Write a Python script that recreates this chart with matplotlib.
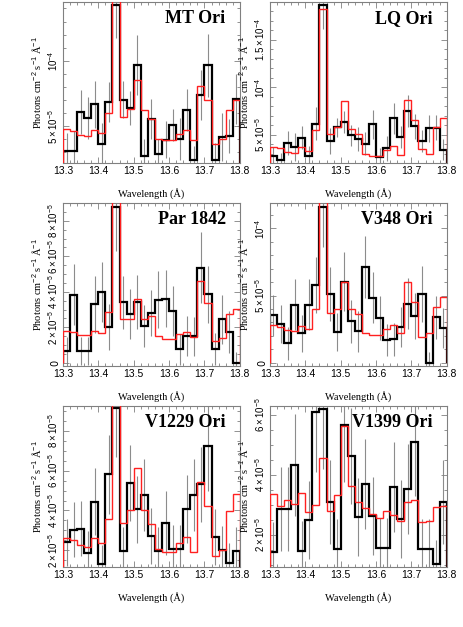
import matplotlib
matplotlib.use('Agg')
import matplotlib.pyplot as plt
import numpy as np
from matplotlib.ticker import MultipleLocator, FixedLocator

plt.rcParams['mathtext.fontset'] = 'custom'
plt.rcParams['mathtext.rm'] = 'Liberation Sans'
plt.rcParams['mathtext.it'] = 'Liberation Sans:italic'

# wavelength bins (Angstrom), 0.02 A wide
wave_edges = np.round(np.arange(13.30, 13.805, 0.02), 2)

# fluxes in units of 1e-5 photons cm-2 s-1 A-1
mt_obs = [3.11, 3.11, 6.07, 5.61, 6.68, 3.67, 6.86, 14.26, 7.04, 6.43, 9.67, 2.70, 5.56,
          2.86, 3.98, 5.10, 4.03, 6.22, 2.40, 7.40, 9.64, 2.45, 4.18, 4.23, 7.09]
mt_mod = [4.80, 4.64, 4.36, 4.29, 4.74, 4.49, 6.02, 16.0, 5.71, 6.28, 8.57, 6.22, 5.56,
          4.06, 3.93, 3.93, 4.39, 4.74, 3.93, 8.11, 6.99, 3.67, 4.03, 6.22, 7.04]
mt_err = [1.4, 1.5, 1.7, 1.6, 1.8, 1.6, 1.5, 2.5, 1.4, 1.3, 2.3, 1.3, 1.5,
          1.2, 1.4, 1.2, 1.6, 1.6, 1.1, 1.9, 2.4, 1.3, 1.8, 1.3, 1.9]

lq_obs = [2.81, 2.32, 4.14, 3.72, 4.70, 2.81, 6.18, 18.63, 4.35, 5.82, 6.35, 4.95, 4.56,
          4.07, 6.11, 2.67, 3.58, 6.74, 4.77, 7.51, 5.89, 4.35, 5.68, 5.75, 3.44]
lq_mod = [3.72, 3.58, 3.16, 3.09, 3.72, 3.30, 5.47, 18.28, 5.05, 5.82, 8.56, 5.61, 5.05,
          2.95, 2.74, 2.74, 3.37, 3.79, 2.88, 8.63, 6.53, 3.51, 2.95, 5.82, 6.81]
lq_err = [0.9, 0.8, 1.3, 1.5, 1.2, 1.0, 1.7, 2.5, 1.4, 1.0, 1.2, 1.1, 1.3,
          1.2, 1.5, 1.0, 1.3, 1.6, 1.2, 1.7, 1.3, 1.2, 1.4, 1.3, 1.1]

par_obs = [0.64, 3.85, 0.68, 0.68, 3.30, 4.00, 2.00, 8.81, 3.40, 2.75, 3.43, 2.08, 2.81,
           3.55, 3.62, 2.91, 0.75, 1.51, 1.49, 5.36, 3.87, 0.79, 2.45, 1.74, 0.0]
par_mod = [1.77, 1.74, 1.58, 1.55, 1.77, 1.66, 2.87, 10.5, 2.49, 2.49, 3.58, 2.45, 2.62,
           1.51, 1.36, 1.36, 1.62, 1.74, 1.43, 4.60, 3.38, 1.25, 1.40, 2.77, 3.06]
par_err = [0.8, 1.7, 0.8, 0.8, 1.6, 1.7, 1.3, 2.5, 1.5, 1.4, 1.5, 1.2, 1.3,
           1.6, 1.6, 1.4, 0.9, 1.1, 1.1, 2.0, 1.6, 0.9, 1.4, 1.2, 0.6]

v348_obs = [3.53, 2.89, 1.44, 4.33, 2.19, 4.33, 5.77, 11.62, 5.12, 2.29, 6.02, 3.08, 2.34,
            7.11, 4.83, 3.33, 1.69, 1.74, 2.64, 4.38, 3.48, 5.12, 0.0, 3.38, 2.59]
v348_mod = [2.79, 2.69, 2.44, 2.39, 2.74, 2.54, 3.98, 13.0, 3.73, 4.03, 6.02, 4.03, 3.63,
            2.24, 2.09, 2.09, 2.49, 2.79, 2.19, 6.02, 4.53, 1.89, 2.24, 4.18, 4.88]
v348_err = [1.5, 1.4, 1.2, 1.9, 1.4, 1.9, 2.1, 3.0, 2.0, 1.4, 2.2, 1.6, 1.5,
            2.3, 1.9, 1.6, 1.2, 1.2, 1.5, 1.9, 1.7, 2.1, 0.8, 1.6, 1.5]

v1229_obs = [2.39, 3.03, 3.09, 1.88, 4.44, 1.28, 5.82, 9.18, 1.98, 5.38, 4.05, 4.77, 2.72,
             1.98, 3.38, 2.05, 2.05, 4.07, 4.77, 5.31, 7.26, 2.66, 2.02, 1.34, 1.98]
v1229_mod = [2.62, 2.49, 2.25, 2.18, 2.62, 2.35, 3.56, 10.0, 3.39, 4.00, 6.15, 4.00, 3.33,
             2.05, 1.92, 1.92, 2.35, 2.64, 1.92, 5.45, 4.20, 1.68, 2.02, 3.97, 4.81]
v1229_err = [1.2, 1.4, 1.4, 1.1, 1.7, 1.0, 2.0, 2.5, 1.2, 1.9, 1.7, 1.8, 1.4,
             1.2, 1.6, 1.2, 1.2, 1.7, 1.8, 1.9, 2.3, 1.4, 1.2, 1.0, 1.2]

v1399_obs = [1.44, 2.87, 2.87, 4.33, 1.47, 2.49, 6.09, 6.20, 3.09, 1.53, 5.67, 4.64, 2.60,
             3.69, 2.64, 1.56, 1.56, 3.60, 2.53, 3.53, 5.09, 1.53, 1.53, 1.02, 3.09]
v1399_mod = [3.36, 2.96, 3.16, 3.02, 3.40, 2.76, 3.00, 4.56, 2.80, 3.33, 5.64, 3.64, 3.09,
             2.91, 2.69, 2.58, 2.80, 2.67, 2.47, 3.09, 3.16, 2.42, 2.47, 2.93, 2.96]
v1399_err = [1.0, 1.4, 1.4, 1.7, 1.0, 1.3, 2.0, 2.0, 1.4, 1.0, 1.9, 1.6, 1.3,
             1.5, 1.3, 1.0, 1.0, 1.5, 1.3, 1.5, 1.8, 1.0, 1.0, 0.8, 1.4]

panels = [
    ('MT Ori', mt_obs, mt_mod, mt_err, (2.19, 14.5), [5, 10],
     [r'$5\times10^{-5}$', r'$10^{-4}$'], 1.0),
    ('LQ Ori', lq_obs, lq_mod, lq_err, (2.04, 18.98), [5, 10, 15],
     [r'$5\times10^{-5}$', r'$10^{-4}$', r'$1.5\times10^{-4}$'], 1.0),
    ('Par 1842', par_obs, par_mod, par_err, (-0.19, 9.0), [0, 2, 4, 6, 8],
     ['0', r'$2\times10^{-5}$', r'$4\times10^{-5}$', r'$6\times10^{-5}$', r'$8\times10^{-5}$'], 0.5),
    ('V348 Ori', v348_obs, v348_mod, v348_err, (-0.25, 11.87), [0, 5, 10],
     ['0', r'$5\times10^{-5}$', r'$10^{-4}$'], 1.0),
    ('V1229 Ori', v1229_obs, v1229_mod, v1229_err, (1.16, 9.28), [2, 4, 6, 8],
     [r'$2\times10^{-5}$', r'$4\times10^{-5}$', r'$6\times10^{-5}$', r'$8\times10^{-5}$'], 0.5),
    ('V1399 Ori', v1399_obs, v1399_mod, v1399_err, (0.94, 6.31), [2, 4, 6],
     [r'$2\times10^{-5}$', r'$4\times10^{-5}$', r'$6\times10^{-5}$'], 0.5),
]

# axes boxes in figure fractions [left, bottom, width, height]
boxes = [[0.136, 0.740, 0.382, 0.257], [0.583, 0.740, 0.382, 0.257],
         [0.136, 0.416, 0.382, 0.260], [0.583, 0.416, 0.382, 0.260],
         [0.136, 0.096, 0.382, 0.257], [0.583, 0.096, 0.382, 0.257]]

serif = ['Liberation Serif', 'DejaVu Serif']
sans = ['Liberation Sans', 'DejaVu Sans']
frame_col = '#808080'

fig = plt.figure(figsize=(4.63, 6.27), dpi=100)
centers = 0.5 * (wave_edges[:-1] + wave_edges[1:])

for box, (name, obs, mod, err, ylim, yt, ytl, yminor) in zip(boxes, panels):
    ax = fig.add_axes(box)
    ax.errorbar(centers, obs, yerr=err, fmt='none', ecolor='#8c8c8c',
                elinewidth=0.8, capsize=0, zorder=1)
    ax.stairs(obs, wave_edges, color='black', linewidth=1.6, zorder=2)
    ax.stairs(mod, wave_edges, color='#ff2020', linewidth=1.0, zorder=3)

    ax.set_xlim(13.3, 13.8)
    ax.set_ylim(*ylim)
    ax.set_xticks([13.3, 13.4, 13.5, 13.6, 13.7, 13.8])
    ax.set_xticklabels(['13.3', '13.4', '13.5', '13.6', '13.7', '13.8'],
                       family=sans, fontsize=7.5)
    ax.xaxis.set_minor_locator(MultipleLocator(0.02))
    ax.yaxis.set_major_locator(FixedLocator(yt))
    ax.set_yticklabels(ytl, rotation=90, va='center', fontsize=7)
    ax.yaxis.set_minor_locator(MultipleLocator(yminor))
    ax.tick_params(which='both', direction='in', top=True, right=True,
                   color=frame_col, width=0.6)
    ax.tick_params(which='major', length=4, pad=2)
    ax.tick_params(which='minor', length=2)
    for sp in ax.spines.values():
        sp.set_color(frame_col)
        sp.set_linewidth(0.8)

    ax.set_xlabel('Wavelength (Å)', family=serif, fontsize=7.5, labelpad=9)
    ax.set_ylabel('Photons cm$^{-2}$ s$^{-1}$ Å$^{-1}$', family=serif,
                  fontsize=7.5, labelpad=2)
    ax.text(0.92, 0.95, name, transform=ax.transAxes, ha='right', va='top',
            family=serif, fontweight='bold', fontsize=13)

fig.savefig('out.png', dpi=100)
